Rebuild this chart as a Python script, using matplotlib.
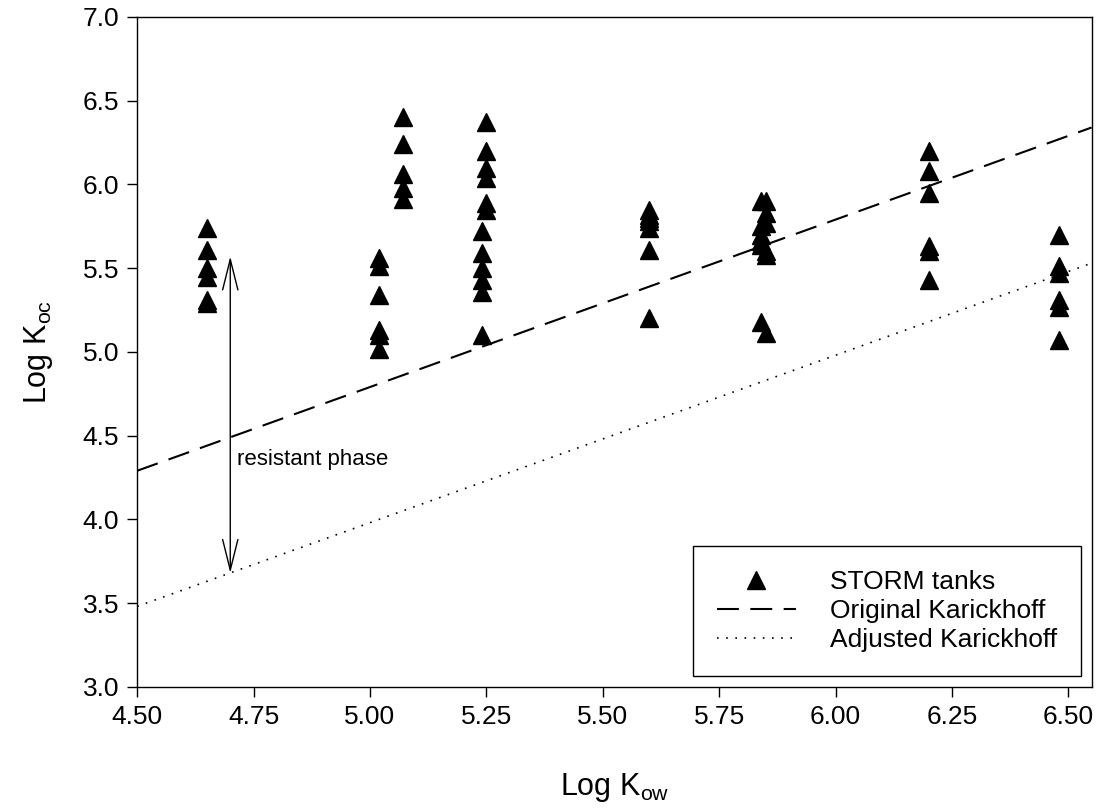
import matplotlib
matplotlib.use('Agg')
import matplotlib.pyplot as plt
import numpy as np

plt.rcParams['font.family'] = ['Liberation Sans', 'DejaVu Sans']
plt.rcParams['mathtext.default'] = 'regular'

# Measured log Kow of each compound and the log Koc values found in the tanks
STORM_KOW = [4.65, 5.02, 5.07, 5.24, 5.25, 5.60, 5.84, 5.85, 6.20, 6.48]
STORM_KOC = [
    [5.74, 5.61, 5.50, 5.45, 5.31, 5.29],
    [5.56, 5.51, 5.34, 5.13, 5.10, 5.02],
    [6.40, 6.24, 6.06, 5.98, 5.91],
    [5.72, 5.59, 5.50, 5.43, 5.36, 5.10],
    [6.37, 6.20, 6.10, 6.04, 5.89, 5.85],
    [5.85, 5.82, 5.80, 5.78, 5.74, 5.61, 5.20],
    [5.90, 5.75, 5.70, 5.66, 5.64, 5.18],
    [5.90, 5.83, 5.77, 5.60, 5.58, 5.11],
    [6.20, 6.08, 5.95, 5.63, 5.60, 5.43],
    [5.70, 5.51, 5.47, 5.31, 5.27, 5.07],
]

# Karickhoff relation: log Koc = log Kow + intercept
LINE_KOW = [4.50, 6.55]
KARICKHOFF_INTERCEPT = -0.21
ADJUSTED_INTERCEPT = -1.02

# Resistant phase arrow
ARROW_KOW = 4.70
ARROW_KOC = [5.57, 3.68]

X_TICKS = [4.50, 4.75, 5.00, 5.25, 5.50, 5.75, 6.00, 6.25, 6.50]
Y_TICKS = [3.0, 3.5, 4.0, 4.5, 5.0, 5.5, 6.0, 6.5, 7.0]


def main() -> None:
    fig = plt.figure(figsize=(11.06, 8.08), dpi=100)
    ax = fig.add_axes([0.124, 0.150, 0.863, 0.829])

    xs, ys = [], []
    for kow, kocs in zip(STORM_KOW, STORM_KOC):
        xs.extend([kow] * len(kocs))
        ys.extend(kocs)
    ax.plot(xs, ys, linestyle='none', marker='^', markersize=13,
            color='black', label='STORM tanks')

    line_x = np.array(LINE_KOW)
    ax.plot(line_x, line_x + KARICKHOFF_INTERCEPT, color='black', lw=1.5,
            dashes=(10.5, 5.5), label='Original Karickhoff')
    ax.plot(line_x, line_x + ADJUSTED_INTERCEPT, color='black', lw=1.2,
            dashes=(1, 4.5), label='Adjusted Karickhoff')

    ax.annotate('', xy=(ARROW_KOW, ARROW_KOC[1]), xytext=(ARROW_KOW, ARROW_KOC[0]),
                arrowprops=dict(arrowstyle='<->,head_length=2.2,head_width=0.55',
                                color='black', lw=1.0, shrinkA=0, shrinkB=0))
    ax.text(4.715, 4.36, 'resistant phase', fontsize=16, va='center', ha='left')

    ax.set_xlim(4.5, 6.55)
    ax.set_ylim(3.0, 7.0)
    ax.set_xticks(X_TICKS)
    ax.set_xticklabels([f'{t:.2f}' for t in X_TICKS])
    ax.set_yticks(Y_TICKS)
    ax.set_yticklabels([f'{t:.1f}' for t in Y_TICKS])
    ax.tick_params(direction='out', length=7, width=1, labelsize=19, pad=6)
    for spine in ax.spines.values():
        spine.set_linewidth(1.0)

    ax.set_xlabel('Log K$_{ow}$', fontsize=22, labelpad=30)
    ax.set_ylabel('Log K$_{oc}$', fontsize=22, labelpad=20)

    leg = ax.legend(loc='lower right', fontsize=19, numpoints=1,
                    handlelength=3.0, handletextpad=1.3, labelspacing=0.2,
                    borderpad=0.9, borderaxespad=0.4, fancybox=False,
                    edgecolor='black', framealpha=1.0)
    leg.get_frame().set_linewidth(1.0)

    fig.savefig('out.png', dpi=100)


if __name__ == '__main__':
    main()
